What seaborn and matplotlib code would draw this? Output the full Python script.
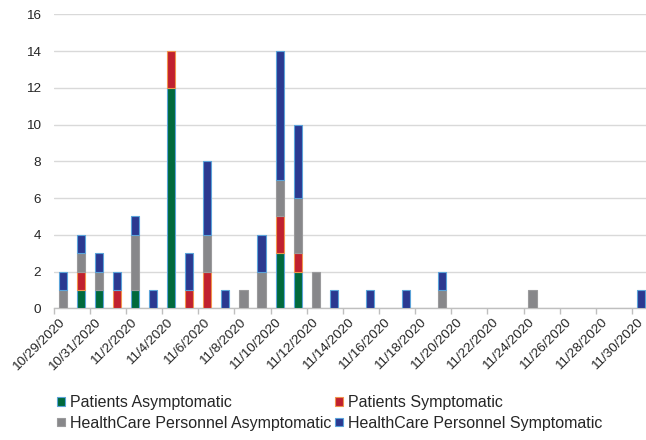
import matplotlib
matplotlib.use("Agg")
import matplotlib.pyplot as plt
import numpy as np
import pandas as pd
import seaborn as sns
from matplotlib.patches import Patch

# Daily case counts by group
dates = [
    "10/29/2020", "10/30/2020", "10/31/2020", "11/1/2020", "11/2/2020",
    "11/3/2020", "11/4/2020", "11/5/2020", "11/6/2020", "11/7/2020",
    "11/8/2020", "11/9/2020", "11/10/2020", "11/11/2020", "11/12/2020",
    "11/13/2020", "11/14/2020", "11/15/2020", "11/16/2020", "11/17/2020",
    "11/18/2020", "11/19/2020", "11/20/2020", "11/21/2020", "11/22/2020",
    "11/23/2020", "11/24/2020", "11/25/2020", "11/26/2020", "11/27/2020",
    "11/28/2020", "11/29/2020", "11/30/2020",
]
patients_asym = [0, 1, 1, 0, 1, 0, 12, 0, 0, 0, 0, 0, 3, 2, 0, 0, 0,
                 0, 0, 0, 0, 0, 0, 0, 0, 0, 0, 0, 0, 0, 0, 0, 0]
patients_sym = [0, 1, 0, 1, 0, 0, 2, 1, 2, 0, 0, 0, 2, 1, 0, 0, 0,
                0, 0, 0, 0, 0, 0, 0, 0, 0, 0, 0, 0, 0, 0, 0, 0]
hcp_asym = [1, 1, 1, 0, 3, 0, 0, 0, 2, 0, 1, 2, 2, 3, 2, 0, 0,
            0, 0, 0, 0, 1, 0, 0, 0, 0, 1, 0, 0, 0, 0, 0, 0]
hcp_sym = [1, 1, 1, 1, 1, 1, 0, 2, 4, 1, 0, 2, 7, 4, 0, 1, 0,
           1, 0, 1, 0, 1, 0, 0, 0, 0, 0, 0, 0, 0, 0, 0, 1]

series_names = [
    "Patients Asymptomatic",
    "Patients Symptomatic",
    "HealthCare Personnel Asymptomatic",
    "HealthCare Personnel Symptomatic",
]
face_colors = ["#00693C", "#C0202F", "#87878A", "#2B3990"]
edge_colors = ["#5BA3D9", "#F0944D", "#9A9A9C", "#5BA3D9"]

df = pd.DataFrame({
    "date": dates,
    series_names[0]: patients_asym,
    series_names[1]: patients_sym,
    series_names[2]: hcp_asym,
    series_names[3]: hcp_sym,
})

sns.set_style("white")
plt.rcParams["font.family"] = ["Liberation Sans", "DejaVu Sans"]

W, H = 646, 440
fig = plt.figure(figsize=(W / 100, H / 100), dpi=100)
left_px, top_px, bottom_px = 53.7, 14.3, 308.3
step_px = 18.07
ax = fig.add_axes([left_px / W, 1 - bottom_px / H,
                   len(dates) * step_px / W, (bottom_px - top_px) / H])

bottom = np.zeros(len(dates))
for name, fc, ec in zip(series_names, face_colors, edge_colors):
    sns.barplot(data=df, x="date", y=name, order=dates, bottom=bottom,
                color=fc, edgecolor=ec, linewidth=0.8, width=0.45,
                saturation=1, errorbar=None, ax=ax, zorder=3)
    bottom = bottom + df[name].to_numpy()

# empty segments would otherwise leave a stray outline
for p in ax.patches:
    if p.get_height() == 0:
        p.set_visible(False)

ax.set_xlim(-0.5, len(dates) - 0.5)
ax.set_ylim(0, 16)
ax.set_yticks(range(0, 17, 2))
ax.set_xlabel("")
ax.set_ylabel("")

ax.yaxis.grid(True, color="#D9D9D9", linewidth=1.0, zorder=0)
ax.set_axisbelow(True)
for side in ("left", "right", "top"):
    ax.spines[side].set_visible(False)
ax.spines["bottom"].set_color("#BFBFBF")
ax.spines["bottom"].set_linewidth(1.0)

ax.set_xticks(range(0, len(dates), 2))
ax.set_xticklabels(dates[::2])
ax.set_xticks(np.arange(-0.5, len(dates) - 1, 2), minor=True)
ax.tick_params(axis="x", which="major", length=0, pad=9, labelsize=9.7,
               labelcolor="#262626")
ax.tick_params(axis="x", which="minor", length=4, width=1.0, color="#BFBFBF",
               direction="out", bottom=True)
ax.tick_params(axis="y", length=0, pad=9, labelsize=9.7, labelcolor="#262626")
for lab in ax.get_xticklabels():
    lab.set_rotation(45)
    lab.set_ha("right")
    lab.set_va("center")
    lab.set_rotation_mode("anchor")

handles = [Patch(facecolor=fc, edgecolor=ec, linewidth=0.8, label=n)
           for n, fc, ec in zip(series_names, face_colors, edge_colors)]
order = [0, 2, 1, 3]
fig.legend(handles=[handles[i] for i in order], ncol=2, loc="center",
           bbox_to_anchor=(330 / W, 1 - 413 / H), frameon=False,
           fontsize=11.5, handlelength=0.45, handleheight=0.45,
           handletextpad=0.35, columnspacing=0.25, labelspacing=0.35,
           borderpad=0, labelcolor="#262626")

fig.savefig("out.png", dpi=100)
